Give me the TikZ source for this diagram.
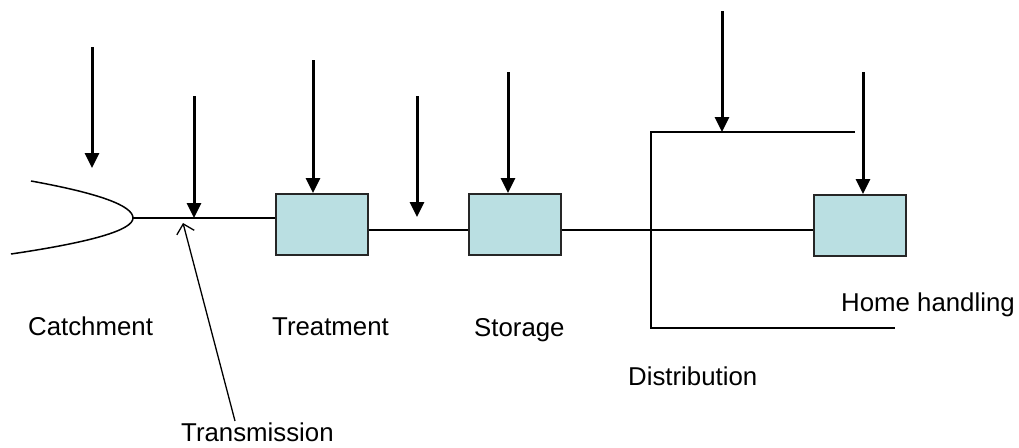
\documentclass[tikz,border=0pt]{standalone}
\usepackage{fontspec}
\setmainfont{Liberation Sans}
\usetikzlibrary{arrows.meta}
\definecolor{boxfill}{RGB}{186,223,226}
\begin{document}
\begin{tikzpicture}[x=1pt,y=-1pt,
  stage/.style={draw=black!85, line width=1.8pt, fill=boxfill,
    minimum width=92pt, minimum height=61pt, inner sep=0pt, anchor=north west},
  pipe/.style={line width=1.5pt},
  inflow/.style={line width=3pt, -{Triangle[length=15pt,width=14pt]}},
  stagetext/.style={font=\fontsize{25.8}{30}\selectfont, inner sep=0pt, anchor=base west},
  pointer/.style={line width=1.3pt, -{Straight Barb[length=9pt,width=18pt]}}]
\useasboundingbox (0,0) rectangle (1019,447);

% stages
\node[stage] (treat) at (275,193) {};
\node[stage] (stor) at (468,193) {};
\node[stage] (home) at (813,194) {};

% catchment mouth and transmission line
\coordinate (mouth) at (133,218);
\draw[pipe] (31,181) .. controls (99,193.3) and (133,205.7) .. (mouth)
  .. controls (133,230) and (92.3,242) .. (11,254);
\coordinate (joinA) at (194,218);
\draw[pipe] (mouth) -- (mouth -| treat.west);

% onward pipes
\coordinate (lvl) at (0,230);
\draw[pipe] (lvl -| treat.east) -- (lvl -| stor.west);
\draw[pipe] (lvl -| stor.east) -- (lvl -| home.west);

% distribution bracket
\coordinate (dTopEnd) at (855,132);
\coordinate (dTop) at (651,132);
\coordinate (dBot) at (651,328);
\coordinate (dBotEnd) at (895,328);
\draw[pipe] (dTopEnd) -- (dTop) -- (dBot) -- (dBotEnd);

% incoming hazards
\coordinate (h1) at (92,47);
\coordinate (h1e) at (92,168);
\coordinate (h2) at (194,96);
\coordinate (h3) at (313,60);
\coordinate (h4) at (417,96);
\coordinate (h4e) at (417,217);
\coordinate (h5) at (508,72);
\coordinate (h6) at (722,11);
\coordinate (h7) at (863,72);
\draw[inflow] (h1) -- (h1e);
\draw[inflow] (h2) -- (joinA);
\draw[inflow] (h3) -- (h3 |- treat.north);
\draw[inflow] (h4) -- (h4e);
\draw[inflow] (h5) -- (h5 |- stor.north);
\draw[inflow] (h6) -- (h6 |- dTop);
\draw[inflow] (h7) -- (h7 |- home.north);

% labels
\node[stagetext] (lCatch) at (28,335.5) {Catchment};
\node[stagetext] (lTreat) at (272,335.5) {Treatment};
\node[stagetext] (lStor) at (474,336) {Storage};
\node[stagetext] (lHome) at (841,311.5) {Home handling};
\node[stagetext] (lDist) at (628,385.5) {Distribution};
\node[stagetext] (lTrans) at (181,441) {Transmission};

\coordinate (transTip) at (183,223);
\coordinate (transTail) at (235,421);
\draw[pointer] (transTail) -- (transTip);
\end{tikzpicture}
\end{document}
